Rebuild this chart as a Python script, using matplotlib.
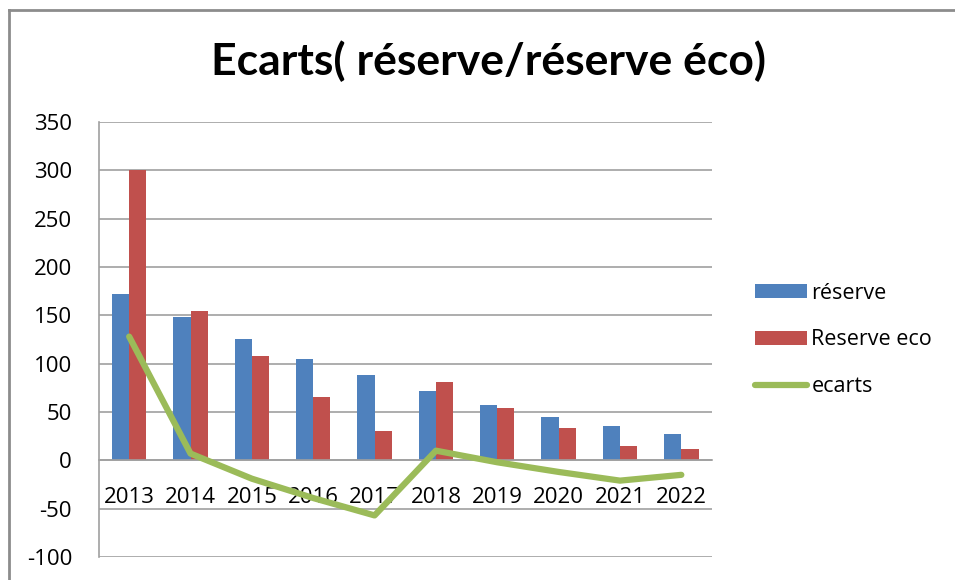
import numpy as np
import matplotlib.pyplot as plt
from matplotlib.lines import Line2D

plt.rcParams['axes.unicode_minus'] = False

# donnees
annees = ['2013', '2014', '2015', '2016', '2017', '2018', '2019', '2020', '2021', '2022']
reserve = [172, 148, 126, 105, 88, 72, 57, 45, 36, 27]
reserve_eco = [300, 154, 108, 66, 30, 81, 54, 33, 15, 12]
ecarts = [128, 7, -19, -39, -57, 10, -2, -12, -21, -15]

W, H = 955, 580
fig = plt.figure(figsize=(W / 100, H / 100), dpi=100)
ax = fig.add_axes([98.5 / W, 1 - 557 / H, (712 - 98.5) / W, (557 - 122) / H])

x = np.arange(len(annees))
bw = 0.28
b1 = ax.bar(x - bw / 2, reserve, bw, color='#4F81BD', label='réserve', zorder=2)
b2 = ax.bar(x + bw / 2, reserve_eco, bw, color='#C0504D', label='Reserve eco', zorder=2)
l1, = ax.plot(x, ecarts, color='#9BBB59', lw=4.5, label='ecarts', zorder=3,
              solid_capstyle='round')

ax.set_xlim(-0.5, len(annees) - 0.5)
ax.set_ylim(-100, 350)
ax.set_yticks(range(-100, 351, 50))
ax.yaxis.grid(True, color='#A0A0A0', lw=1.2, zorder=0)
ax.set_axisbelow(True)

for s in ['top', 'right']:
    ax.spines[s].set_visible(False)
ax.spines['left'].set_color('#A0A0A0')
ax.spines['left'].set_linewidth(1.2)
ax.spines['bottom'].set_position(('data', 0))
ax.spines['bottom'].set_color('#A0A0A0')
ax.spines['bottom'].set_linewidth(1.2)

fnt = ['Open Sans', 'DejaVu Sans']
ax.set_xticks(x)
ax.set_xticklabels(annees, family=fnt, fontsize=16)
ax.tick_params(axis='x', length=0, pad=19)
ax.tick_params(axis='y', length=0, pad=19, labelsize=16)
for t in ax.get_yticklabels():
    t.set_family(fnt)

fig.text(488 / W, 1 - 61 / H, 'Ecarts( réserve/réserve éco)', ha='center', va='center',
         fontsize=32, fontweight='bold', family=['Lato', 'DejaVu Sans'])

leg = ax.legend([b1, b2, l1], ['réserve', 'Reserve eco', 'ecarts'],
                loc='center left', bbox_to_anchor=(736 / W, 1 - 340 / H),
                bbox_transform=fig.transFigure, frameon=False,
                prop={'family': fnt, 'size': 15.5}, handlelength=2.4, handleheight=0.6,
                handletextpad=0.2, labelspacing=1.2)

# cadre du graphique
fig.add_artist(Line2D([8.5 / W, 1], [1 - 9.5 / H, 1 - 9.5 / H], transform=fig.transFigure,
                      color='#8C8C8C', lw=2))
fig.add_artist(Line2D([8.5 / W, 8.5 / W], [0, 1 - 9.5 / H], transform=fig.transFigure,
                      color='#8C8C8C', lw=2))

fig.savefig('out.png', dpi=100)
